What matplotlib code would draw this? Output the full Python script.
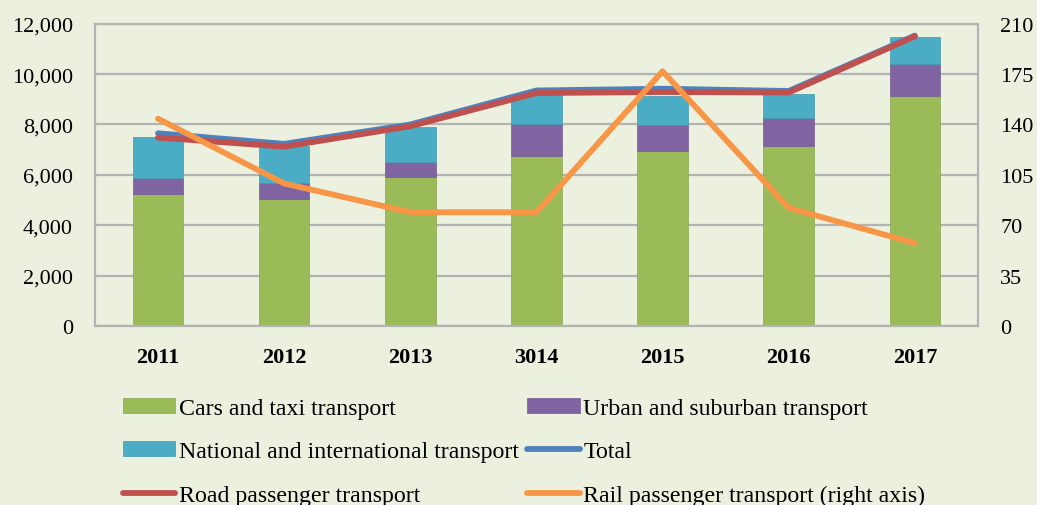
import matplotlib
matplotlib.use('Agg')
import matplotlib.pyplot as plt
import numpy as np
from matplotlib.ticker import FuncFormatter

plt.rcParams['font.family'] = ['Liberation Serif', 'DejaVu Serif']

years = ['2011', '2012', '2013', '3014', '2015', '2016', '2017']
cars = [5250, 5050, 5900, 6730, 6930, 7140, 9130]
urban = [620, 620, 600, 1270, 1030, 1120, 1270]
national = [1630, 1480, 1390, 1200, 1190, 960, 1070]
total = [7650, 7230, 8000, 9350, 9420, 9330, 11530]
road = [7480, 7120, 7930, 9250, 9290, 9270, 11500]
rail = [144, 99, 79, 79, 177, 82, 57.5]

bg = '#ebf1de'
colors = ['#9bbb59', '#8064a2', '#4bacc6', '#4f81bd', '#c0504d', '#f79646']
fs = 16

fig = plt.figure(figsize=(10.37, 5.06), dpi=100, facecolor=bg)
ax = fig.add_axes([0.0916, 0.354, 0.8514, 0.597])
ax.set_facecolor(bg)
x = np.arange(len(years))
w = 0.4

b1 = ax.bar(x, cars, w, color=colors[0], edgecolor='#8aa54f', linewidth=0.5, zorder=2)
b2 = ax.bar(x, urban, w, bottom=cars, color=colors[1], edgecolor='#735a92', linewidth=0.5, zorder=2)
bot3 = np.array(cars) + np.array(urban)
b3 = ax.bar(x, national, w, bottom=bot3, color=colors[2], edgecolor='#439ab2', linewidth=0.5, zorder=2)
l1, = ax.plot(x, total, color=colors[3], lw=4.2, solid_capstyle='round', zorder=3)
l2, = ax.plot(x, road, color=colors[4], lw=4.2, solid_capstyle='round', zorder=4)

ax.set_xlim(-0.5, len(years) - 0.5)
ax.set_ylim(0, 12000)
ax.set_yticks(np.arange(0, 12001, 2000))
ax.yaxis.set_major_formatter(FuncFormatter(lambda v, p: f'{int(v):,}'))
ax.set_xticks(x)
ax.set_xticklabels(years, fontweight='bold', fontsize=fs + 0.5)
ax.grid(axis='y', color='#b3b3b3', lw=1.6, zorder=1)
ax.tick_params(length=0, labelsize=fs, colors='#000000')
ax.tick_params(axis='x', pad=15)
ax.tick_params(axis='y', pad=16)
for s in ax.spines.values():
    s.set_color('#b3b3b3')
    s.set_linewidth(1.6)

ax2 = ax.twinx()
l3, = ax2.plot(x, rail, color=colors[5], lw=4.2, solid_capstyle='round', zorder=5)
ax2.set_ylim(0, 210)
ax2.set_yticks(np.arange(0, 211, 35))
ax2.tick_params(length=0, labelsize=fs, pad=16)
for s in ax2.spines.values():
    s.set_visible(False)

handles = [b1, b3, l2, b2, l1, l3]
labels = ['Cars and taxi transport', 'National and international transport',
          'Road passenger transport', 'Urban and suburban transport', 'Total',
          'Rail passenger transport (right axis)']
fig.legend(handles, labels, ncol=2, loc='upper left', bbox_to_anchor=(0.107, 0.236),
           frameon=False, fontsize=17.2, handlelength=2.2, handleheight=0.6,
           handletextpad=0.15, columnspacing=0.35, labelspacing=0.95, borderpad=0)

plt.savefig('out.png', dpi=100, facecolor=bg)
